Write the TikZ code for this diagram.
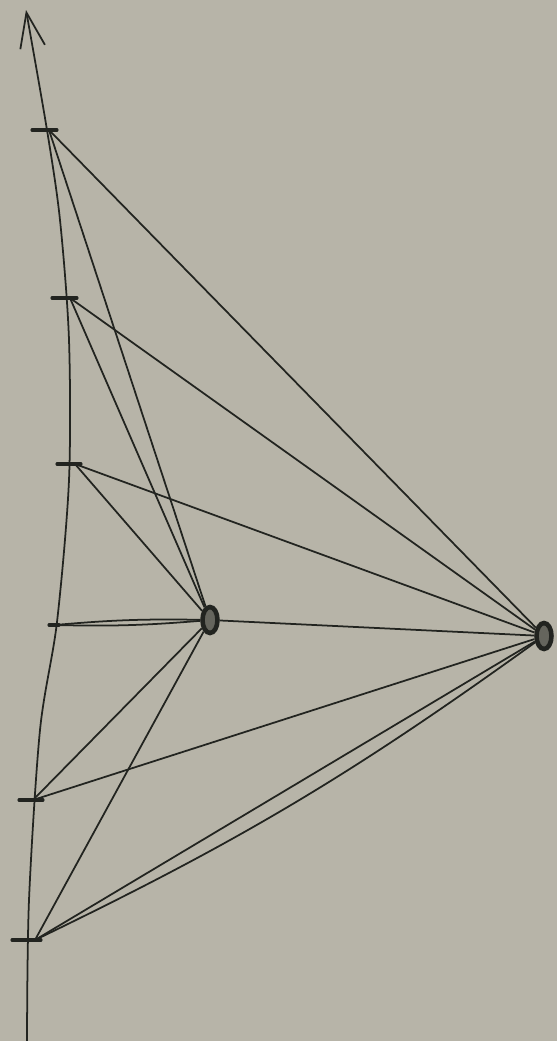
\documentclass[tikz,border=0pt]{standalone}
\usepackage{xcolor}
\usepackage{tikz}
\usetikzlibrary{positioning, shapes, arrows.meta, calc}

\definecolor{paper}{RGB}{183,180,168}
\definecolor{pencil}{RGB}{34,36,32}

\begin{document}
\begin{tikzpicture}[x=0.02cm, y=-0.02cm, line width=1pt, draw=pencil,
    spot/.style={ellipse, draw=pencil, line width=2.6pt, fill=pencil!55!paper, inner sep=0pt, minimum width=0.3cm, minimum height=0.52cm},
    mark line/.style={line width=1.8pt, line cap=round}]

        % Paper
        \fill[paper] (0,0) rectangle (557,1041);
        \useasboundingbox (0,0) rectangle (557,1041);

        % Axis
        \draw[-{Straight Barb[length=0.7cm, width=0.5cm]}] plot[smooth] coordinates {(27,1041) (29,900) (40,730) (57,622) (69,480) (69,340) (60,220) (47,130) (26,10)};

        % Marks on the axis
        \foreach \i/\x/\y/\l/\r in {1/49/130/17/8, 2/70/298/18/7, 3/75/464/18/6, 4/55/625/6/4, 5/33/800/14/10, 6/35/940/23/6} {
          \coordinate (t\i) at (\x,\y);
          \draw[mark line] (\x-\l,\y) -- (\x+\r,\y);
        }

        % Points
        \node[spot] (near) at (210,620) {};
        \node[spot] (far) at (544,636) {};

        % Rays
        \foreach \i in {1,2,3,5,6} {
          \draw (t\i) -- (near);
          \draw (t\i) -- (far);
        }
        \draw (t4) to[bend left=3] (near);
        \draw (t4) to[bend right=3] (near);
        \draw (near) -- (far);
        \draw (t6) to[bend right=5] (far);
      \end{tikzpicture}
\end{document}
